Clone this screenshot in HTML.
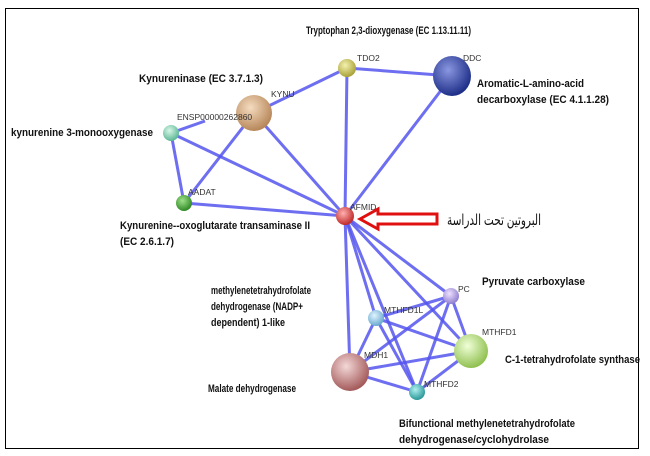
<!DOCTYPE html>
<html><head><meta charset="utf-8"><style>
html,body{margin:0;padding:0;background:#fff;}
svg{display:block}
.b{font-family:"Liberation Sans Narrow","Liberation Sans",sans-serif;font-weight:bold;font-size:11px;fill:#111}
.n{font-family:"Liberation Sans",sans-serif;font-size:8.5px;fill:#333}
</style></head><body>
<svg width="650" height="456" viewBox="0 0 650 456" xmlns="http://www.w3.org/2000/svg">
<defs>
<radialGradient id="gy" cx="40%" cy="35%" r="65%"><stop offset="0" stop-color="#f4f2b0"/><stop offset="1" stop-color="#a9a238"/></radialGradient>
<radialGradient id="gb" cx="40%" cy="35%" r="65%"><stop offset="0" stop-color="#8a96e0"/><stop offset="1" stop-color="#1e2f88"/></radialGradient>
<radialGradient id="go" cx="40%" cy="35%" r="65%"><stop offset="0" stop-color="#f5dcc0"/><stop offset="1" stop-color="#b7875a"/></radialGradient>
<radialGradient id="gt" cx="40%" cy="35%" r="65%"><stop offset="0" stop-color="#d8f7e8"/><stop offset="1" stop-color="#5cb894"/></radialGradient>
<radialGradient id="gg" cx="40%" cy="35%" r="65%"><stop offset="0" stop-color="#9fe08a"/><stop offset="1" stop-color="#2f8a25"/></radialGradient>
<radialGradient id="gr" cx="40%" cy="35%" r="65%"><stop offset="0" stop-color="#ffb0b0"/><stop offset="1" stop-color="#c02a2a"/></radialGradient>
<radialGradient id="gp" cx="40%" cy="35%" r="65%"><stop offset="0" stop-color="#eee0ff"/><stop offset="1" stop-color="#9080d0"/></radialGradient>
<radialGradient id="gc" cx="40%" cy="35%" r="65%"><stop offset="0" stop-color="#e0f4ff"/><stop offset="1" stop-color="#6aaad0"/></radialGradient>
<radialGradient id="gl" cx="40%" cy="35%" r="65%"><stop offset="0" stop-color="#f0ffd8"/><stop offset="1" stop-color="#90c050"/></radialGradient>
<radialGradient id="gm" cx="40%" cy="35%" r="65%"><stop offset="0" stop-color="#f4d8d8"/><stop offset="1" stop-color="#a45a5a"/></radialGradient>
<radialGradient id="gq" cx="40%" cy="35%" r="65%"><stop offset="0" stop-color="#b0f0f0"/><stop offset="1" stop-color="#2a9898"/></radialGradient>
</defs>
<rect x="5.5" y="8.5" width="633" height="440" fill="#fff" stroke="#000" stroke-width="1"/>
<g stroke="#5555ee" stroke-width="3" stroke-opacity="0.85" fill="none">
<line x1="347" y1="68" x2="254" y2="113"/>
<line x1="347" y1="68" x2="452" y2="76"/>
<line x1="347" y1="68" x2="345" y2="216"/>
<line x1="452" y1="76" x2="345" y2="216"/>
<line x1="254" y1="113" x2="345" y2="216"/>
<line x1="254" y1="113" x2="184" y2="203"/>
<line x1="205" y1="121" x2="171" y2="133"/>
<line x1="171" y1="133" x2="184" y2="203"/>
<line x1="171" y1="133" x2="345" y2="216"/>
<line x1="184" y1="203" x2="345" y2="216"/>
<line x1="345" y1="216" x2="350" y2="372"/>
<line x1="345" y1="216" x2="376" y2="318"/>
<line x1="345" y1="216" x2="417" y2="392"/>
<line x1="345" y1="216" x2="451" y2="296"/>
<line x1="345" y1="216" x2="471" y2="351"/>
<line x1="451" y1="296" x2="376" y2="318"/>
<line x1="451" y1="296" x2="350" y2="372"/>
<line x1="451" y1="296" x2="417" y2="392"/>
<line x1="451" y1="296" x2="471" y2="351"/>
<line x1="376" y1="318" x2="471" y2="351"/>
<line x1="376" y1="318" x2="417" y2="392"/>
<line x1="376" y1="318" x2="350" y2="372"/>
<line x1="350" y1="372" x2="471" y2="351"/>
<line x1="350" y1="372" x2="417" y2="392"/>
<line x1="417" y1="392" x2="471" y2="351"/>
</g>
<circle cx="347" cy="68" r="9" fill="url(#gy)"/>
<ellipse cx="452" cy="76" rx="19" ry="20" fill="url(#gb)"/>
<circle cx="254" cy="113" r="18" fill="url(#go)"/>
<circle cx="171" cy="133" r="8" fill="url(#gt)"/>
<circle cx="184" cy="203" r="8" fill="url(#gg)"/>
<circle cx="345" cy="216" r="9" fill="url(#gr)"/>
<circle cx="451" cy="296" r="8" fill="url(#gp)"/>
<circle cx="376" cy="318" r="8" fill="url(#gc)"/>
<circle cx="471" cy="351" r="17" fill="url(#gl)"/>
<circle cx="350" cy="372" r="19" fill="url(#gm)"/>
<circle cx="417" cy="392" r="8" fill="url(#gq)"/>
<g class="n">
<text x="357" y="61">TDO2</text>
<text x="463" y="61">DDC</text>
<text x="271" y="97">KYNU</text>
<text x="177" y="120">ENSP00000262860</text>
<text x="188" y="195">AADAT</text>
<text x="350" y="210">AFMID</text>
<text x="458" y="292">PC</text>
<text x="384" y="313">MTHFD1L</text>
<text x="482" y="335">MTHFD1</text>
<text x="364" y="358">MDH1</text>
<text x="424" y="387">MTHFD2</text>
</g>
<g class="b">
<text x="306" y="34" textLength="165" lengthAdjust="spacingAndGlyphs">Tryptophan 2,3-dioxygenase (EC 1.13.11.11)</text>
<text x="139" y="82" textLength="124" lengthAdjust="spacingAndGlyphs">Kynureninase (EC 3.7.1.3)</text>
<text x="477" y="87" textLength="107" lengthAdjust="spacingAndGlyphs">Aromatic-L-amino-acid</text>
<text x="477" y="103" textLength="132" lengthAdjust="spacingAndGlyphs">decarboxylase (EC 4.1.1.28)</text>
<text x="11" y="136" textLength="142" lengthAdjust="spacingAndGlyphs">kynurenine 3-monooxygenase</text>
<text x="120" y="229" textLength="190" lengthAdjust="spacingAndGlyphs">Kynurenine--oxoglutarate transaminase II</text>
<text x="120" y="245" textLength="54" lengthAdjust="spacingAndGlyphs">(EC 2.6.1.7)</text>
<text x="482" y="285" textLength="103" lengthAdjust="spacingAndGlyphs">Pyruvate carboxylase</text>
<text x="211" y="294" textLength="100" lengthAdjust="spacingAndGlyphs">methylenetetrahydrofolate</text>
<text x="211" y="310" textLength="92" lengthAdjust="spacingAndGlyphs">dehydrogenase (NADP+</text>
<text x="211" y="326" textLength="74" lengthAdjust="spacingAndGlyphs">dependent) 1-like</text>
<text x="505" y="363" textLength="135" lengthAdjust="spacingAndGlyphs">C-1-tetrahydrofolate synthase</text>
<text x="208" y="392" textLength="88" lengthAdjust="spacingAndGlyphs">Malate dehydrogenase</text>
<text x="399" y="427" textLength="176" lengthAdjust="spacingAndGlyphs">Bifunctional methylenetetrahydrofolate</text>
<text x="399" y="443" textLength="150" lengthAdjust="spacingAndGlyphs">dehydrogenase/cyclohydrolase</text>
</g>
<path d="M360 219 L378 209 L378 214 L437 214 L437 224 L378 224 L378 229 Z" fill="#fff" stroke="#e01010" stroke-width="3" stroke-linejoin="miter"/>
<text x="541" y="225" text-anchor="end" textLength="94" lengthAdjust="spacingAndGlyphs" font-family="'Liberation Sans','DejaVu Sans',sans-serif" font-size="15" fill="#111">البروتين تحت الدراسة</text>
</svg>
</body></html>
